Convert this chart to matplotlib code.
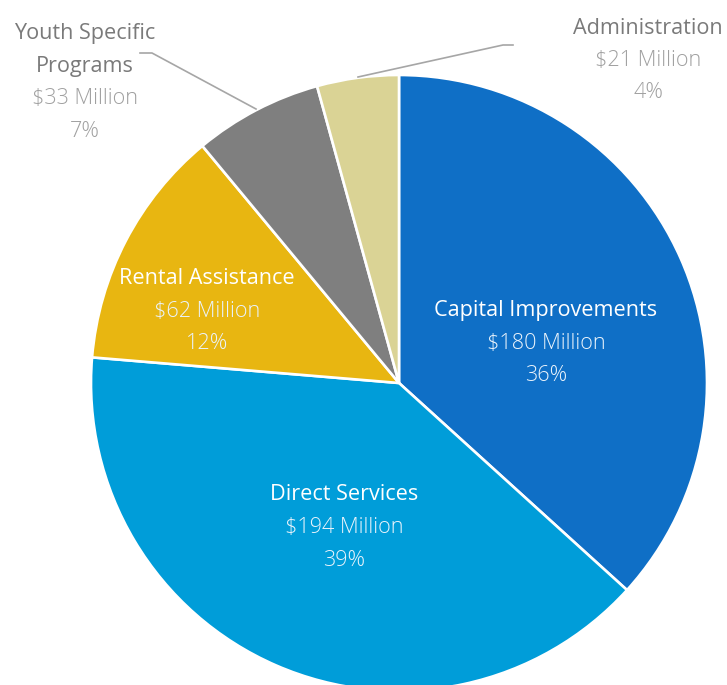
import matplotlib.pyplot as plt

categories = ['Capital Improvements', 'Direct Services', 'Rental Assistance',
              'Youth Specific\nPrograms', 'Administration']
amounts = [180, 194, 62, 33, 21]
pct_labels = ['36%', '39%', '12%', '7%', '4%']
colors = ['#0F6FC6', '#009DD9', '#E8B611', '#7F7F7F', '#DAD395']

W, H = 727, 685
CX, CY, R = 399, 383, 308


def px(x, y):
    # pixel position in the picture -> data units (pie radius 1)
    return (x - CX) / R, (CY - y) / R


plt.rcParams['font.family'] = ['Open Sans', 'DejaVu Sans']
fig = plt.figure(figsize=(W / 100, H / 100), dpi=100)
ax = fig.add_axes([0, 0, 1, 1])
ax.pie(amounts, colors=colors, startangle=90, counterclock=False, radius=1,
       wedgeprops=dict(edgecolor='white', linewidth=1.9))
ax.set_xlim(-CX / R, (W - CX) / R)
ax.set_ylim((CY - H) / R, CY / R)
ax.set_aspect('auto')
ax.axis('off')

# label placement (centre x, first-line y) in pixels
label_pos = [(546, 311), (344, 495), (207, 279), (85, 34), (648, 28)]
inside = [True, True, True, False, False]
fs = 15.6

for i, name in enumerate(categories):
    x0, y0 = label_pos[i]
    lines = name.split('\n')
    if inside[i]:
        c1, c2 = 'white', '#EAF3FB'
    else:
        c1, c2 = '#7A7A7A', '#A0A0A0'
    y = y0
    for ln in lines:
        ax.text(*px(x0, y), ln, ha='center', va='center', fontsize=fs, color=c1)
        y += 32.5
    ax.text(*px(x0, y), '$%d Million' % amounts[i], ha='center', va='center',
            fontsize=fs, color=c2, fontweight='light')
    y += 32.5
    ax.text(*px(x0, y), pct_labels[i], ha='center', va='center',
            fontsize=fs, color=c2, fontweight='light')

# leader lines for the two small slices
ax.plot(*zip(px(140, 53), px(152, 53), px(256, 109)), color='#A6A6A6', lw=1.2)
ax.plot(*zip(px(358, 77), px(503, 45), px(513, 45)), color='#A6A6A6', lw=1.2)

fig.savefig('out.png', dpi=100)
